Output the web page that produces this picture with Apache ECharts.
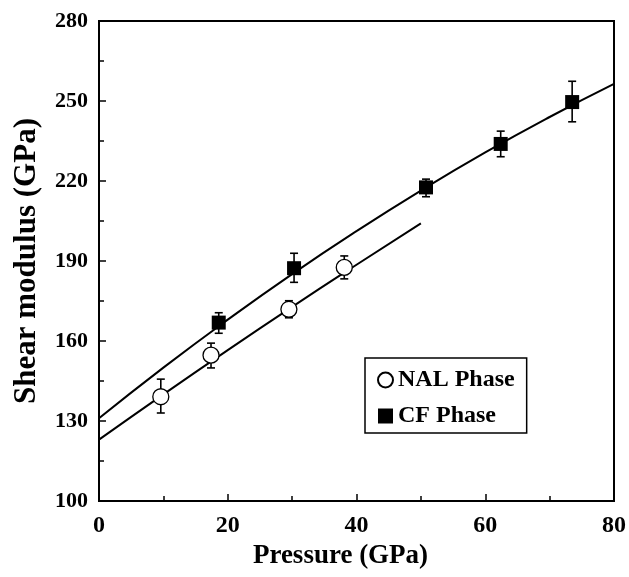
<!DOCTYPE html>
<html>
<head>
<meta charset="utf-8">
<script src="https://cdn.jsdelivr.net/npm/echarts@6/dist/echarts.min.js"></script>
<style>
  html, body { margin: 0; padding: 0; background: #fff; }
  #chart { width: 629px; height: 577px; }
</style>
</head>
<body>
<div id="chart"></div>
<script>
// measured points (pressure GPa, shear modulus GPa) with error bar ends
const nalX = [9.6, 17.4, 29.5, 38.1]
const nalY = [139.1, 154.7, 171.9, 187.6]
const nalLo = [133.0, 149.9, 168.7, 183.3]
const nalHi = [145.7, 159.2, 175.1, 191.9]

const cfX = [18.6, 30.3, 50.8, 62.4, 73.5]
const cfY = [166.9, 187.3, 217.6, 233.9, 249.6]
const cfLo = [162.9, 182.0, 214.1, 229.1, 242.2]
const cfHi = [170.6, 192.9, 220.7, 238.7, 257.4]

// fitted curves
const nalFitX = [0, 10, 20, 30, 40, 50]
const nalFitY = [123.0, 140.0, 156.6, 172.8, 188.6, 204.1]
const cfFitX = [0, 10, 20, 30, 40, 50, 60, 70, 80]
const cfFitY = [131.0, 150.0, 168.0, 185.1, 201.2, 216.4, 230.7, 244.0, 256.4]

const xTicks = [0, 20, 40, 60, 80]
const yTicks = [100, 130, 160, 190, 220, 250, 280]

const font = '"Liberation Serif", "Times New Roman", serif'

const pairs = (xs, ys) => xs.map((x, i) => [x, ys[i]])
const errData = (xs, lo, hi) => xs.map((x, i) => [x, lo[i], hi[i]])

// vertical error bar with small caps
function errorBar(params, api) {
    const x = api.value(0)
    const top = api.coord([x, api.value(2)])
    const bot = api.coord([x, api.value(1)])
    const cap = 4
    const style = { stroke: '#000', lineWidth: 1.6 }
    return {
        type: 'group',
        children: [
            { type: 'line', shape: { x1: top[0], y1: top[1], x2: bot[0], y2: bot[1] }, style },
            { type: 'line', shape: { x1: top[0] - cap, y1: top[1], x2: top[0] + cap, y2: top[1] }, style },
            { type: 'line', shape: { x1: bot[0] - cap, y1: bot[1], x2: bot[0] + cap, y2: bot[1] }, style }
        ]
    }
}

const chart = echarts.init(document.getElementById('chart'))
chart.setOption({
    animation: false,
    backgroundColor: '#fff',
    grid: {
        left: 99, right: 14, top: 21, bottom: 76,
        show: true, borderColor: '#000', borderWidth: 2
    },
    legend: {
        orient: 'vertical',
        left: 365, top: 358,
        borderColor: '#000', borderWidth: 1.5,
        padding: [10, 12, 5, 12],
        itemGap: 12,
        itemWidth: 15, itemHeight: 15,
        textStyle: { fontFamily: font, fontWeight: 'bold', fontSize: 24, color: '#000' },
        data: [
            { name: 'NAL Phase', icon: 'circle' },
            { name: 'CF Phase', icon: 'rect' }
        ]
    },
    xAxis: {
        type: 'value',
        min: xTicks[0], max: xTicks[xTicks.length - 1], interval: 20,
        name: 'Pressure (GPa)',
        nameLocation: 'middle',
        nameGap: 38,
        nameTextStyle: { fontFamily: font, fontWeight: 'bold', fontSize: 27, color: '#000', padding: [0, 32, 0, 0] },
        axisLine: { lineStyle: { color: '#000', width: 2 } },
        axisTick: { inside: true, length: 7, lineStyle: { color: '#000', width: 1.5 } },
        minorTick: { show: true, splitNumber: 2, length: 5, lineStyle: { color: '#000', width: 1.5 } },
        axisLabel: { fontFamily: font, fontWeight: 'bold', fontSize: 24, color: '#000', margin: 13 },
        splitLine: { show: false }
    },
    yAxis: {
        type: 'value',
        min: yTicks[0], max: yTicks[yTicks.length - 1], interval: 30,
        name: 'Shear modulus (GPa)',
        nameLocation: 'middle',
        nameGap: 57,
        nameRotate: 90,
        nameTextStyle: { fontFamily: font, fontWeight: 'bold', fontSize: 31, color: '#000' },
        axisLine: { lineStyle: { color: '#000', width: 2 } },
        axisTick: { inside: true, length: 7, lineStyle: { color: '#000', width: 1.5 } },
        minorTick: { show: true, splitNumber: 2, length: 5, lineStyle: { color: '#000', width: 1.5 } },
        axisLabel: { fontFamily: font, fontWeight: 'bold', fontSize: 22, color: '#000', margin: 11 },
        splitLine: { show: false }
    },
    series: [
        {
            name: 'NAL fit', type: 'line', smooth: true, symbol: 'none',
            lineStyle: { color: '#000', width: 2 }, z: 1,
            data: pairs(nalFitX, nalFitY)
        },
        {
            name: 'CF fit', type: 'line', smooth: true, symbol: 'none',
            lineStyle: { color: '#000', width: 2 }, z: 1,
            data: pairs(cfFitX, cfFitY)
        },
        {
            name: 'NAL err', type: 'custom', renderItem: errorBar, z: 2,
            encode: { x: 0, y: [1, 2] },
            data: errData(nalX, nalLo, nalHi)
        },
        {
            name: 'CF err', type: 'custom', renderItem: errorBar, z: 2,
            encode: { x: 0, y: [1, 2] },
            data: errData(cfX, cfLo, cfHi)
        },
        {
            name: 'NAL Phase', type: 'scatter', symbol: 'circle', symbolSize: 16, z: 3,
            itemStyle: { color: '#fff', borderColor: '#000', borderWidth: 1.3, opacity: 1 },
            data: pairs(nalX, nalY)
        },
        {
            name: 'CF Phase', type: 'scatter', symbol: 'rect', symbolSize: 14, z: 3,
            itemStyle: { color: '#000', opacity: 1 },
            data: pairs(cfX, cfY)
        }
    ]
})
</script>
</body>
</html>
